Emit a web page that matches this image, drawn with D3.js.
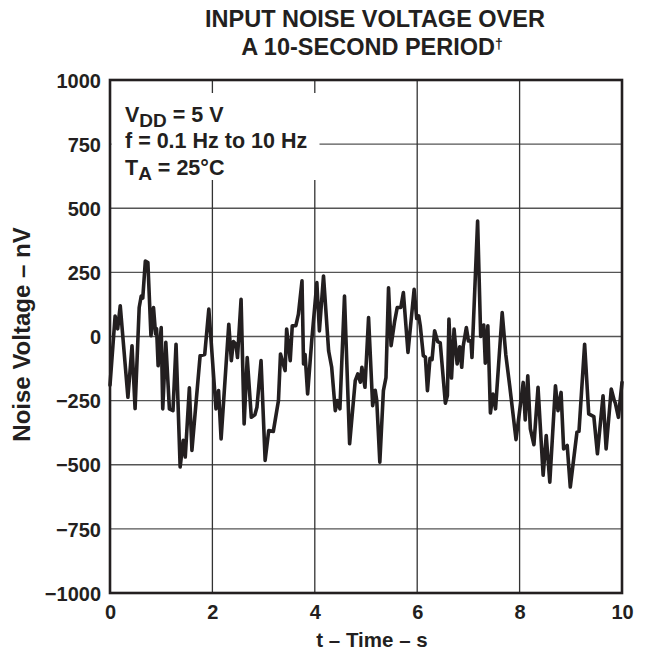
<!DOCTYPE html>
<html><head><meta charset="utf-8">
<script src="https://cdn.jsdelivr.net/npm/d3@7"></script>
<style>
html,body{margin:0;padding:0;background:#fff;}
svg{display:block;font-family:"Liberation Sans",Arial,Helvetica,sans-serif;font-weight:bold;}
</style></head>
<body>
<svg id="chart" width="645" height="655"></svg>
<script>
// ---- data ----
const timeS = [0.00,0.10,0.15,0.20,0.35,0.43,0.49,0.57,0.61,0.64,0.69,0.74,0.80,0.85,0.89,0.91,0.94,1.00,1.03,1.09,1.16,1.23,1.29,1.37,1.43,1.47,1.55,1.60,1.76,1.85,1.93,2.07,2.12,2.17,2.32,2.37,2.41,2.46,2.49,2.56,2.62,2.68,2.76,2.83,2.87,2.95,3.03,3.10,3.19,3.29,3.33,3.42,3.45,3.52,3.56,3.63,3.68,3.75,3.78,3.81,3.86,3.94,4.04,4.09,4.17,4.27,4.33,4.40,4.44,4.49,4.58,4.68,4.79,4.84,4.89,4.92,4.98,5.05,5.13,5.18,5.21,5.27,5.34,5.39,5.44,5.49,5.56,5.61,5.68,5.73,5.82,5.94,5.99,6.03,6.06,6.12,6.16,6.20,6.25,6.29,6.34,6.40,6.45,6.55,6.59,6.62,6.67,6.72,6.78,6.83,6.87,6.90,6.96,7.00,7.05,7.07,7.18,7.24,7.26,7.30,7.33,7.38,7.43,7.48,7.53,7.66,7.73,7.81,7.93,8.07,8.11,8.16,8.21,8.28,8.36,8.46,8.52,8.59,8.70,8.75,8.81,8.86,8.93,8.99,9.12,9.16,9.27,9.35,9.45,9.52,9.63,9.69,9.79,9.85,9.87,9.93,10.00];
const noiseNV = [-190,80,30,120,-237,-36,-281,113,158,150,294,288,3,113,10,30,-114,35,-282,-23,-282,-289,-30,-509,-405,-470,-200,-444,-75,-70,107,-282,-211,-399,48,-94,-20,-30,-82,145,-341,-82,-315,-305,-276,-94,-483,-367,-370,-250,-68,-133,29,-94,42,42,87,217,-107,-70,-224,-16,210,22,236,-56,-120,-289,-250,-282,158,-418,-172,-146,-178,-120,-198,74,-270,-210,-250,-490,-211,-160,190,-36,60,113,113,171,-62,184,70,80,42,-75,-80,-211,-85,-90,22,-20,-25,-260,-230,68,-162,29,-107,-40,-120,-36,35,-17,-17,-82,450,0,9,45,-104,42,-298,-224,-282,93,-70,-198,-402,-179,-325,-153,-360,-422,-198,-541,-386,-568,-192,-289,-218,-438,-425,-587,-373,-370,-30,-302,-312,-457,-231,-438,-205,-250,-260,-315,-179];
const xTicks = [0,2,4,6,8,10];
const yTicks = [-1000,-750,-500,-250,0,250,500,750,1000];
const titleLines = ["INPUT NOISE VOLTAGE OVER","A 10-SECOND PERIOD"];
const xLabel = "t – Time – s";
const yLabel = "Noise Voltage – nV";

// ---- layout ----
const W = 645, H = 655;
const m = {top:80, right:23, bottom:62, left:110};
const iw = W - m.left - m.right, ih = H - m.top - m.bottom;
const ink = "#231f20";
const svg = d3.select("#chart");
const g = svg.append("g").attr("transform",`translate(${m.left},${m.top})`);

const x = d3.scaleLinear().domain([0,10]).range([0,iw]);
const y = d3.scaleLinear().domain([-1000,1000]).range([ih,0]);

// grid
g.append("g").selectAll("line").data(yTicks.slice(1,-1)).join("line")
  .attr("x1",0).attr("x2",iw).attr("y1",d=>y(d)).attr("y2",d=>y(d))
  .attr("stroke","#555").attr("stroke-width",1.4);
g.append("g").selectAll("line").data(xTicks.slice(1,-1)).join("line")
  .attr("y1",0).attr("y2",ih).attr("x1",d=>x(d)).attr("x2",d=>x(d))
  .attr("stroke","#333").attr("stroke-width",1.3);

// annotation background
g.append("rect").attr("x",1.5).attr("y",13).attr("width",208).attr("height",87).attr("fill","#fff");

// trace
const pts = timeS.map((t,i)=>[t,noiseNV[i]]);
g.append("path").datum(pts)
  .attr("d", d3.line().x(d=>x(d[0])).y(d=>y(d[1])))
  .attr("fill","none").attr("stroke",ink).attr("stroke-width",3.6)
  .attr("stroke-linejoin","round").attr("stroke-linecap","round");

// frame
g.append("rect").attr("x",0).attr("y",0).attr("width",iw).attr("height",ih)
  .attr("fill","none").attr("stroke",ink).attr("stroke-width",2.6);

// axes
const xAxis = g.append("g").attr("transform",`translate(0,${ih})`)
  .call(d3.axisBottom(x).tickValues(xTicks).tickSize(0).tickPadding(7).tickFormat(d3.format("d")));
const yAxis = g.append("g")
  .call(d3.axisLeft(y).tickValues(yTicks).tickSize(0).tickPadding(9)
    .tickFormat(d=> d<0 ? "\u2212"+Math.abs(d) : String(d)));
[xAxis,yAxis].forEach(a=>{
  a.select(".domain").remove();
  a.selectAll("text").attr("fill",ink).style("font-size","20px").style("font-weight","bold")
   .style("font-family","'Liberation Sans',Arial,sans-serif");
});
xAxis.selectAll("text").attr("dy","0.95em");
yAxis.selectAll("text").attr("dy","0.36em");

// title
const title = svg.append("text").attr("text-anchor","middle")
  .attr("fill",ink).style("font-size","23.5px");
title.append("tspan").attr("x",375).attr("y",27).text(titleLines[0]);
const tl2 = svg.append("text").attr("text-anchor","middle").attr("fill",ink).style("font-size","23.5px");
tl2.append("tspan").attr("x",372).attr("y",55).text(titleLines[1]);
tl2.append("tspan").attr("dy","-6").style("font-size","14px").text("\u2020");

// axis labels
svg.append("text").attr("x",372).attr("y",647).attr("text-anchor","middle")
  .attr("fill",ink).style("font-size","20.5px").text(xLabel);
svg.append("text").attr("transform",`translate(30,${m.top+ih/2 - 2}) rotate(-90)`)
  .attr("text-anchor","middle").attr("fill",ink).style("font-size","24px").text(yLabel);

// annotation
const ann = svg.append("g").attr("fill",ink).style("font-size","21.5px");
const a1 = ann.append("text").attr("x",125).attr("y",122);
a1.append("tspan").text("V");
a1.append("tspan").attr("dy",5).style("font-size","19px").text("DD");
a1.append("tspan").attr("dy",-5).text(" = 5 V");
ann.append("text").attr("x",125).attr("y",148).text("f = 0.1 Hz to 10 Hz");
const a3 = ann.append("text").attr("x",125).attr("y",175);
a3.append("tspan").text("T");
a3.append("tspan").attr("dy",5).style("font-size","19px").text("A");
a3.append("tspan").attr("dy",-5).text(" = 25\u00B0C");
</script>
</body></html>
